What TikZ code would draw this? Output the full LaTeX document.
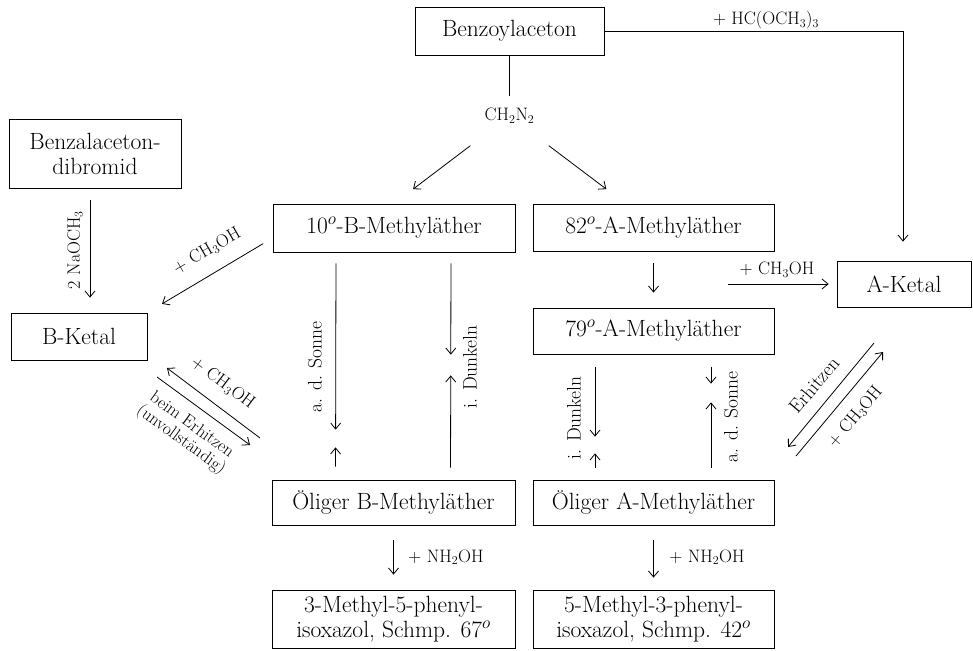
\documentclass[tikz,border=0pt]{standalone}
\usepackage{tikz}
\usetikzlibrary{positioning,arrows.meta}

\tikzset{
  stoff/.style={draw, line width=0.8pt, inner sep=0pt, align=center,
    font=\fontsize{23.5}{25}\selectfont},
  reag/.style={font=\fontsize{18}{20}\selectfont, inner sep=2pt, align=center},
  bed/.style={font=\fontsize{19.5}{20}\selectfont, inner sep=2pt, align=center},
  pfeil/.style={->, line width=0.8pt},
  >={Straight Barb[length=6pt,width=10pt]},
}

\begin{document}
\begin{tikzpicture}[x=1pt,y=-1pt]
\useasboundingbox (0,0) rectangle (973,650);

% Stoffe
\draw(509.5,31) node[stoff, minimum width=189pt, minimum height=48pt] (benzo) {Benzoylaceton};
\draw(95,153.5) node[stoff, minimum width=172pt, minimum height=69pt] (dibrom) {Benzalaceton-\\dibromid};
\draw(79,336.5) node[stoff, minimum width=136pt, minimum height=47pt] (bketal) {B-Ketal};
\draw(394,228) node[stoff, minimum width=242pt, minimum height=48pt] (mbzehn) {10$^{o}$-B-Methyläther};
\draw(653.5,227.5) node[stoff, minimum width=241pt, minimum height=47pt] (maacht) {82$^{o}$-A-Methyläther};
\draw(904,284) node[stoff, minimum width=134pt, minimum height=46pt] (aketal) {A-Ketal};
\draw(653.5,331) node[stoff, minimum width=241pt, minimum height=46pt] (masieb) {79$^{o}$-A-Methyläther};
\draw(393.5,502.5) node[stoff, minimum width=243pt, minimum height=45pt] (oelb) {Öliger B-Methyläther};
\draw(653.5,502.5) node[stoff, minimum width=241pt, minimum height=45pt] (oela) {Öliger A-Methyläther};
\draw(393.5,619) node[stoff, minimum width=243pt, minimum height=58pt] (isob) {3-Methyl-5-phenyl-\\isoxazol, Schmp. 67$^{o}$};
\draw(653.5,619) node[stoff, minimum width=241pt, minimum height=58pt] (isoa) {5-Methyl-3-phenyl-\\isoxazol, Schmp. 42$^{o}$};

% Benzoylaceton -> A-Ketal
\coordinate (ecke) at (903,31);
\draw[pfeil, shorten >=19pt] (benzo.east) -- (ecke) -- (ecke |- aketal.north);
\draw(766,20) node[reag] (hc) {+ HC(OCH$_3$)$_3$};

% Diazomethan
\draw(509.5,116) node[reag] (ch) {CH$_2$N$_2$};
\draw[line width=0.8pt, shorten >=10pt] (benzo.south) -- (ch.north);
\draw[pfeil, shorten <=33pt, shorten >=24pt] (ch) -- (mbzehn.north);
\draw[pfeil, shorten <=33pt, shorten >=24pt] (ch) -- ([xshift=-28pt]maacht.north);

% B-Seite
\draw[pfeil, shorten <=12pt, shorten >=15pt] ([xshift=-5pt]dibrom.south) -- ([xshift=-5pt]dibrom.south |- bketal.north);
\draw(75,250) node[reag, rotate=90] (nao) {2 NaOCH$_3$};
\draw[pfeil, shorten <=11pt, shorten >=17pt] ([yshift=-10pt]mbzehn.west) -- (bketal.north east);
\draw(207,251) node[reag, rotate=30] (meb) {+ CH$_3$OH};

\coordinate (bka) at (260,438);
\coordinate (bkb) at (167,368);
\coordinate (bkc) at (157,377);
\coordinate (bkd) at (250,445);
\draw[pfeil] (bka) -- (bkb);
\draw[pfeil] (bkc) -- (bkd);
\draw(223,383) node[reag, rotate=-37] (bkme) {+ CH$_3$OH};
\draw(186,433) node[bed, rotate=-36, font=\fontsize{17.5}{18}\selectfont] (bker) {beim Erhitzen\\(unvollständig)};

\draw[pfeil, shorten <=11pt, shorten >=50pt] ([xshift=-58pt]mbzehn.south) -- ([xshift=-58pt]oelb.north);
\draw[pfeil, shorten <=13pt, shorten >=195pt] ([xshift=-58pt]oelb.north) -- ([xshift=-58pt]mbzehn.south);
\draw(315,367) node[bed, rotate=90] (bsonne) {a. d. Sonne};
\draw[pfeil, shorten <=11pt, shorten >=125pt] ([xshift=57pt]mbzehn.south) -- ([xshift=57pt]oelb.north);
\draw[pfeil, shorten <=12pt, shorten >=123pt] ([xshift=57pt]oelb.north) -- ([xshift=57pt]mbzehn.south);
\draw(470,367) node[bed, rotate=90] (bdunkel) {i. Dunkeln};

% A-Seite
\draw[pfeil, shorten <=12pt, shorten >=15pt] (maacht.south) -- (masieb.north);
\draw[pfeil, shorten >=8pt] ([xshift=-109pt]aketal.west) -- (aketal.west);
\draw(777,270) node[reag] (mea) {+ CH$_3$OH};

\draw[pfeil, shorten <=13pt, shorten >=43pt] ([xshift=-58.5pt]masieb.south) -- ([xshift=-58.5pt]oela.north);
\draw[pfeil, shorten <=12pt, shorten >=99pt] ([xshift=-58.5pt]oela.north) -- ([xshift=-58.5pt]masieb.south);
\draw(574,418) node[bed, rotate=90] (adunkel) {i. Dunkeln};
\draw[pfeil, shorten <=13pt, shorten >=96pt] ([xshift=57.5pt]masieb.south) -- ([xshift=57.5pt]oela.north);
\draw[pfeil, shorten <=12pt, shorten >=48pt] ([xshift=57.5pt]oela.north) -- ([xshift=57.5pt]masieb.south);
\draw(731,417) node[bed, rotate=90] (asonne) {a. d. Sonne};

\coordinate (aka) at (874,343);
\coordinate (akb) at (788,447);
\coordinate (akc) at (796,456);
\coordinate (akd) at (883,352);
\draw[pfeil] (aka) -- (akb);
\draw[pfeil] (akc) -- (akd);
\draw(814,385) node[bed, rotate=50] (erh) {Erhitzen};
\draw(855,417) node[reag, rotate=50] (akme) {+ CH$_3$OH};

% Hydroxylamin
\draw[pfeil, shorten <=15pt, shorten >=15pt] (oelb.south) -- (isob.north);
\draw(446,557) node[reag] (nhb) {+ NH$_2$OH};
\draw[pfeil, shorten <=15pt, shorten >=12pt] (oela.south) -- (isoa.north);
\draw(707,557) node[reag] (nha) {+ NH$_2$OH};
\end{tikzpicture}
\end{document}
